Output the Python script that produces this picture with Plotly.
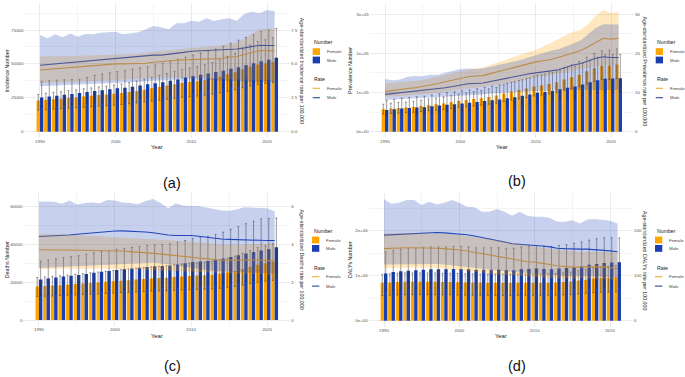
import plotly.graph_objects as go

W, H = 685, 377
years = list(range(1990, 2022))

# ---------------- (a) Incidence ----------------
inc_female = [23000,23500,24000,24300,25000,25300,26000,26500,27000,27500,28000,28500,29200,30000,31000,32000,33000,34000,35000,36000,36700,37300,38200,39300,40500,42300,43800,46000,48000,49500,50500,51500]
inc_male = [25300,26000,26500,27200,27800,28500,29200,30000,30600,31300,32000,32500,33200,34000,35000,35800,36500,37500,38500,40000,41000,42000,43000,44000,45000,46500,47500,49000,50500,52000,53000,54500]
inc_female_lo = [16000,16300,16700,17000,17400,17700,18100,18500,18900,19300,19700,20100,20600,21200,21900,22600,23300,24000,24700,25400,25900,26300,27000,27700,28600,29800,30900,32400,33800,34900,35600,36300]
inc_female_hi = [27500,28300,29000,29500,30300,30800,31700,32300,33000,33700,34500,35200,36200,37300,38700,40200,41600,43000,44500,46000,47000,48000,49500,51000,53000,55500,57800,61000,64000,66500,67800,69300]
inc_male_lo = [18400,18900,19300,19800,20200,20700,21200,21800,22200,22700,23200,23600,24100,24700,25400,26000,26500,27200,27900,29000,29700,30400,31200,31900,32600,33700,34400,35500,36600,37700,38400,39500]
inc_male_hi = [36900,37500,38000,38300,38500,38600,40000,41500,42500,43500,44300,45000,46000,47000,48000,49200,50500,52000,53500,55000,56600,58000,59500,61000,63000,65200,67500,69500,71500,73800,75000,76200]
inc_rate_female = [4.55,4.6,4.65,4.68,4.7,4.75,4.8,4.85,4.9,4.95,5.0,5.0,5.0,5.0,5.05,5.12,5.18,5.22,5.27,5.3,5.32,5.32,5.33,5.35,5.4,5.5,5.55,5.7,5.85,5.98,5.97,5.98]
inc_rate_female_lo = [3.6,3.6,3.62,3.63,3.65,3.67,3.7,3.72,3.75,3.77,3.8,3.82,3.85,3.88,3.9,3.95,3.98,4.0,4.0,4.0,3.98,3.95,3.92,3.9,3.88,3.87,3.85,3.85,3.83,3.82,3.82,3.82]
inc_rate_female_hi = [5.55,5.55,5.56,5.57,5.58,5.6,5.62,5.63,5.65,5.67,5.7,5.7,5.72,5.75,5.82,5.92,5.97,6.0,6.05,6.1,6.15,6.18,6.2,6.25,6.35,6.5,6.6,6.85,7.2,7.55,7.6,7.62]
inc_rate_male = [4.9,4.95,5.0,5.05,5.1,5.15,5.2,5.25,5.3,5.35,5.45,5.5,5.52,5.55,5.6,5.65,5.65,5.7,5.78,5.85,5.93,5.95,5.97,6.0,6.02,6.05,6.1,6.18,6.28,6.37,6.36,6.36]
inc_rate_male_lo = [3.35,3.37,3.4,3.42,3.45,3.47,3.5,3.53,3.56,3.58,3.6,3.63,3.66,3.69,3.73,3.78,3.82,3.85,3.86,3.87,3.86,3.84,3.81,3.79,3.77,3.75,3.72,3.7,3.68,3.67,3.66,3.66]
inc_rate_male_hi = [7.13,6.89,7.18,6.96,7.25,7.0,7.2,7.18,7.3,7.33,7.38,7.18,7.25,7.33,7.55,7.8,7.7,7.55,8.0,8.0,8.19,8.11,8.36,8.16,8.29,8.36,8.19,8.68,8.85,8.73,8.98,8.9]

# ---------------- (b) Prevalence ----------------
prev_female = [57000,59000,60500,61500,63000,65500,68000,70000,72000,75000,78000,80500,83000,85500,88500,92000,97000,102000,106000,110000,115000,118000,121500,126000,133000,138600,145000,154000,162000,168000,168500,171500]
prev_male = [55000,57000,59000,60500,61500,62500,64500,66500,68500,70000,72000,73500,75500,78000,80000,82000,85000,88000,91500,95000,99000,101000,104000,108000,112000,115000,120000,126000,131000,135000,135500,136000]
prev_female_lo = [45000,46500,47500,48500,49500,51500,53500,55000,56500,59000,61500,63500,65500,67500,70000,72500,76500,80500,83500,87000,91000,93000,96000,99500,105000,109500,114500,121500,128000,132500,133000,135500]
prev_female_hi = [70000,72500,74500,75500,77500,80500,83500,86000,88500,92000,96000,99000,102000,105000,109000,113000,119500,125500,130500,135500,141500,145000,149500,155000,163500,170500,178500,189500,199500,206500,207500,211000]
prev_male_lo = [41000,42500,44000,45500,46000,47000,48500,50000,51500,52500,54000,55000,56500,58500,60000,61500,64000,66000,68500,71000,74000,76000,78000,81000,84000,86000,90000,94500,98000,101000,101500,102000]
prev_male_hi = [80000,82500,85500,87500,89000,90500,93500,96500,99500,101500,104500,106500,109500,113000,116000,119000,123000,127500,132500,137500,143500,146500,151000,156500,162500,167000,174000,182500,190000,196000,196500,197000]
prev_rate_female = [10.2,10.5,10.8,11.0,11.2,11.5,11.9,12.3,12.7,13.1,13.6,14.0,14.2,14.3,14.8,15.3,15.8,16.3,16.8,17.3,17.8,18.1,18.4,18.9,19.6,20.1,20.7,21.7,22.8,23.8,23.6,23.8]
prev_rate_female_lo = [8.9,9.0,9.1,9.2,9.3,9.5,9.7,9.9,10.1,10.4,10.7,11.0,11.2,11.4,11.7,11.9,12.3,12.6,13.0,13.4,13.8,14.1,14.4,14.7,15.1,15.5,15.9,16.3,16.7,17.0,17.0,17.0]
prev_rate_female_hi = [12.3,12.5,12.7,12.9,13.0,13.2,13.6,14.0,14.4,14.9,15.4,15.8,16.1,16.4,17.0,17.7,18.3,19.0,19.7,20.3,20.8,21.6,22.6,23.6,24.6,25.5,26.0,27.5,29.6,31.0,30.2,30.6]
prev_rate_male = [9.5,9.7,9.9,10.1,10.3,10.5,10.7,10.9,11.2,11.5,11.9,12.2,12.3,12.4,12.8,13.2,13.5,13.9,14.3,14.7,15.0,15.2,15.5,15.8,16.4,17.0,17.4,18.1,18.7,19.1,18.9,18.9]
prev_rate_male_lo = [8.1,8.2,8.3,8.4,8.5,8.6,8.7,8.8,8.9,9.0,9.2,9.3,9.4,9.5,9.7,9.9,10.0,10.1,10.2,10.3,10.4,10.4,10.5,10.5,10.6,10.6,10.6,10.6,10.6,10.7,10.6,10.6]
prev_rate_male_hi = [13.4,13.1,13.3,14.0,14.2,14.1,14.5,14.5,15.0,15.5,16.0,16.1,16.0,16.1,16.6,17.0,17.4,17.8,18.3,18.9,19.5,20.0,20.6,21.0,21.7,22.5,23.3,25.0,26.5,27.4,27.4,27.3]

# ---------------- (c) Deaths ----------------
death_female = [17800,18000,18200,18400,18700,19000,19300,19600,19900,20200,20500,20800,21100,21400,21700,22000,22200,22400,22700,23000,23300,23500,23700,24000,24500,25200,26000,27000,28200,29300,30000,30800]
death_male = [21500,22000,22500,23000,23400,23800,24400,25000,25500,26000,26500,26900,27300,27700,28100,28400,28600,28800,29400,30000,30700,31000,31200,31800,32500,33400,34300,35200,36000,36800,37500,38500]
death_female_lo = [12500,12600,12700,12900,13100,13300,13500,13700,13900,14100,14300,14500,14700,14900,15100,15300,15400,15500,15700,15900,16100,16200,16300,16500,16800,17300,17800,18500,19300,20000,20500,21000]
death_female_hi = [22500,22800,23100,23400,23800,24200,24600,25000,25400,25800,26200,26600,27000,27400,27800,28200,28500,28800,29200,29600,30000,30300,30600,31000,31700,32700,33800,35200,36800,38300,39300,40400]
death_male_lo = [13200,13500,13800,14100,14300,14500,14900,15200,15500,15800,16100,16300,16500,16700,16900,17000,17100,17200,17500,17800,18200,18300,18400,18700,19100,19600,20100,20600,21000,21400,21800,22300]
death_male_hi = [31200,31800,32400,33000,33500,34000,34800,35600,36200,36800,37400,37900,38400,38900,39400,39800,40000,40300,41200,42100,43200,43800,44300,45300,46500,48000,49500,51000,52300,53500,53700,54000]
death_rate_female = [3.72,3.72,3.71,3.7,3.7,3.69,3.69,3.68,3.68,3.68,3.67,3.65,3.62,3.6,3.56,3.53,3.5,3.45,3.41,3.37,3.33,3.28,3.22,3.17,3.16,3.16,3.17,3.18,3.18,3.18,3.15,3.13]
death_rate_female_lo = [2.7,2.7,2.7,2.7,2.7,2.72,2.72,2.72,2.72,2.72,2.72,2.7,2.68,2.67,2.66,2.65,2.63,2.62,2.6,2.58,2.56,2.54,2.52,2.5,2.48,2.47,2.46,2.45,2.44,2.43,2.42,2.4]
death_rate_female_hi = [4.55,4.55,4.54,4.53,4.52,4.5,4.48,4.46,4.44,4.42,4.4,4.38,4.35,4.33,4.3,4.27,4.25,4.22,4.2,4.18,4.15,4.12,4.08,4.03,3.98,3.97,3.98,4.0,4.02,4.04,4.05,4.05]
death_rate_male = [4.42,4.43,4.45,4.47,4.5,4.54,4.58,4.61,4.64,4.67,4.71,4.72,4.71,4.69,4.66,4.62,4.55,4.5,4.47,4.47,4.47,4.43,4.37,4.32,4.29,4.27,4.25,4.24,4.23,4.22,4.21,4.2]
death_rate_male_lo = [2.75,2.77,2.8,2.83,2.85,2.87,2.9,2.92,2.93,2.95,2.98,3.0,3.0,3.0,3.02,3.05,3.0,2.95,2.9,2.85,2.8,2.72,2.65,2.6,2.57,2.55,2.53,2.52,2.5,2.5,2.48,2.45]
death_rate_male_hi = [6.27,6.28,6.26,6.15,6.32,6.12,6.2,6.22,6.18,6.35,6.33,6.22,6.2,6.13,6.3,6.4,6.2,5.92,6.18,6.05,6.05,6.02,5.95,5.88,5.8,5.79,5.85,5.97,5.95,5.92,5.92,5.75]

# ---------------- (d) DALYs ----------------
daly_female = [840000,850000,860000,865000,865000,865000,865000,865000,860000,860000,855000,850000,850000,848000,845000,845000,845000,845000,845000,845000,845000,845000,845000,850000,860000,870000,890000,910000,935000,950000,955000,965000]
daly_male = [1050000,1080000,1100000,1110000,1120000,1130000,1140000,1140000,1140000,1150000,1150000,1140000,1130000,1130000,1130000,1130000,1120000,1120000,1140000,1150000,1160000,1150000,1140000,1160000,1170000,1190000,1210000,1240000,1260000,1280000,1290000,1300000]
daly_female_lo = [560000,566000,573000,576000,576000,576000,576000,576000,573000,573000,570000,566000,566000,565000,563000,563000,563000,563000,563000,563000,563000,563000,563000,566000,573000,580000,593000,606000,623000,633000,636000,643000]
daly_female_hi = [1030000,1042000,1054000,1060000,1060000,1060000,1060000,1060000,1054000,1054000,1048000,1042000,1042000,1039000,1036000,1036000,1036000,1036000,1036000,1036000,1036000,1036000,1040000,1047000,1062000,1080000,1110000,1140000,1175000,1200000,1210000,1225000]
daly_male_lo = [680000,690000,700000,705000,710000,715000,720000,720000,720000,722000,720000,713000,705000,703000,700000,698000,693000,690000,700000,705000,710000,703000,695000,705000,710000,720000,730000,745000,755000,765000,770000,775000]
daly_male_hi = [1530000,1560000,1590000,1600000,1610000,1625000,1640000,1640000,1640000,1650000,1650000,1635000,1620000,1620000,1620000,1620000,1610000,1610000,1640000,1655000,1670000,1660000,1650000,1670000,1690000,1720000,1750000,1790000,1820000,1840000,1840000,1840000]
daly_rate_female = [160,161,161.5,162,162,162,161.5,161,160,159,157,155,152,148,145,142,139,136,133,131,130,128,125,122,120,119,119,119,120,120,118,115]
daly_rate_female_lo = [116,117,118,118,118,118,118,117,116,115,113,111,109,107,105,103,101,100,99,98,97,96,95,94,93,93,93,93,93,93,92,91]
daly_rate_female_hi = [194,194,195,195,195,195,195,194,193,192,190,188,186,183,181,179,176,173,170,167,164,162,160,158,156,154,153,153,153,153,152,151]
daly_rate_male = [190,191,192,193,193.5,194,195,196,195,194,193,191,188,185,182,178,175,171,170,169,168,166,164,161,160,159,159,159,158,157,155,153]
daly_rate_male_lo = [125,125,125,126,126,126,126,126,125,124,122,120,118,116,114,112,110,108,106,105,104,103,102,101,100,99,99,99,98,98,97,96]
daly_rate_male_hi = [270,260,262,268,268,257,264,258,262,268,262,253,252,242,242,248,242,233,242,233,231,231,228,220,220,223,216,225,226,224,222,216]

# tick labels
x_ticks = [1990, 2000, 2010, 2020]
inc_ticks = ["0", "25000", "50000", "75000"]
inc_rate_ticks = ["0.0", "2.5", "5.0", "7.5"]
prev_ticks = ["0e+00", "1e+05", "2e+05", "3e+05"]
prev_rate_ticks = ["0", "10", "20", "30"]
death_ticks = ["0", "20000", "40000", "60000"]
death_rate_ticks = ["0", "2", "4", "6"]
daly_ticks = ["0e+00", "1e+06", "2e+06"]
daly_rate_ticks = ["0", "100", "200"]

FEMALE_BAR = "#FFA500"
MALE_BAR = "#1B3FAE"
FEMALE_LINE = "#EDA530"
MALE_LINE = "#2447B8"
FEMALE_FILL = "rgba(255,165,0,0.25)"
MALE_FILL = "rgba(33,71,189,0.25)"
ERR = "rgba(45,45,45,0.6)"
FONT = "Liberation Sans, Arial, sans-serif"
SCALE = 10000.0


def PX(p):
    return p / W


def PY(p):
    return 1 - p / H


panels = [
    dict(label="(a)", ytitle="Incidence Number", rtitle="Age-standardized Incidence rate per 100,000",
         f=inc_female, m=inc_male, flo=inc_female_lo, fhi=inc_female_hi, mlo=inc_male_lo, mhi=inc_male_hi,
         rf=inc_rate_female, rflo=inc_rate_female_lo, rfhi=inc_rate_female_hi,
         rm=inc_rate_male, rmlo=inc_rate_male_lo, rmhi=inc_rate_male_hi,
         xpx=(24.5, 290.1), ypx=(3.85, 137.8), yr=[-4490, 94290],
         ytv=[0, 25000, 50000, 75000], ytt=inc_ticks, ymin=[12500, 37500, 62500, 87500],
         y2tt=inc_rate_ticks, ltitle_x=6.7, rtitle_x=302, year_y=147, lab=(172, 183), leg=(312.7, 42.3)),
    dict(label="(b)", ytitle="Prevalence Number", rtitle="Age-standardized Prevalence rate per 100,000",
         f=prev_female, m=prev_male, flo=prev_female_lo, fhi=prev_female_hi, mlo=prev_male_lo, mhi=prev_male_hi,
         rf=prev_rate_female, rflo=prev_rate_female_lo, rfhi=prev_rate_female_hi,
         rm=prev_rate_male, rmlo=prev_rate_male_lo, rmhi=prev_rate_male_hi,
         xpx=(369.6, 634.0), ypx=(4.0, 137.75), yr=[-15500, 325500],
         ytv=[0, 100000, 200000, 300000], ytt=prev_ticks, ymin=[50000, 150000, 250000],
         y2tt=prev_rate_ticks, ltitle_x=350, rtitle_x=645.5, year_y=147, lab=(517, 181), leg=(655.7, 42.3)),
    dict(label="(c)", ytitle="Deaths Number", rtitle="Age-standardized Deaths rate per 100,000",
         f=death_female, m=death_male, flo=death_female_lo, fhi=death_female_hi, mlo=death_male_lo, mhi=death_male_hi,
         rf=death_rate_female, rflo=death_rate_female_lo, rfhi=death_rate_female_hi,
         rm=death_rate_male, rmlo=death_rate_male_lo, rmhi=death_rate_male_hi,
         xpx=(23.4, 290.2), ypx=(193.06, 326.05), yr=[-3200, 67200],
         ytv=[0, 20000, 40000, 60000], ytt=death_ticks, ymin=[10000, 30000, 50000],
         y2tt=death_rate_ticks, ltitle_x=6.7, rtitle_x=302, year_y=336, lab=(172, 366), leg=(312.0, 230.7)),
    dict(label="(d)", ytitle="DALYs Number", rtitle="Age-standardized DALYs rate per 100,000",
         f=daly_female, m=daly_male, flo=daly_female_lo, fhi=daly_female_hi, mlo=daly_male_lo, mhi=daly_male_hi,
         rf=daly_rate_female, rflo=daly_rate_female_lo, rfhi=daly_rate_female_hi,
         rm=daly_rate_male, rmlo=daly_rate_male_lo, rmhi=daly_rate_male_hi,
         xpx=(368.6, 633.0), ypx=(193.28, 326.74), yr=[-134800, 2830800],
         ytv=[0, 1000000, 2000000], ytt=daly_ticks, ymin=[500000, 1500000, 2500000],
         y2tt=daly_rate_ticks, ltitle_x=350, rtitle_x=645, year_y=336, lab=(517, 366), leg=(655.0, 230.7)),
]

fig = go.Figure()
layout = {}
annotations = []
shapes = []

for i, p in enumerate(panels):
    xid = "x" if i == 0 else f"x{i + 1}"
    yid = "y" if i == 0 else f"y{2 * i + 1}"
    y2id = f"y{2 * i + 2}"
    xkey = "xaxis" if i == 0 else f"xaxis{i + 1}"
    ykey = "yaxis" if i == 0 else f"yaxis{2 * i + 1}"
    y2key = f"yaxis{2 * i + 2}"

    # bars with error bars
    for vals, lo, hi, col in ((p["f"], p["flo"], p["fhi"], FEMALE_BAR), (p["m"], p["mlo"], p["mhi"], MALE_BAR)):
        fig.add_trace(go.Bar(
            x=years, y=vals, xaxis=xid, yaxis=yid, marker=dict(color=col, line=dict(width=0)),
            error_y=dict(type="data", symmetric=False,
                         array=[h - v for h, v in zip(hi, vals)],
                         arrayminus=[v - l for v, l in zip(vals, lo)],
                         color=ERR, thickness=0.8, width=1.0),
            showlegend=False, hoverinfo="skip"))

    # rate lines (drawn under the ribbons)
    for vals, col in ((p["rf"], FEMALE_LINE), (p["rm"], MALE_LINE)):
        fig.add_trace(go.Scatter(x=years, y=vals, xaxis=xid, yaxis=y2id, mode="lines",
                                 line=dict(color=col, width=1.1), showlegend=False, hoverinfo="skip"))
    # ribbons
    for lo, hi, fc in ((p["rflo"], p["rfhi"], FEMALE_FILL), (p["rmlo"], p["rmhi"], MALE_FILL)):
        fig.add_trace(go.Scatter(x=years + years[::-1], y=hi + lo[::-1], xaxis=xid, yaxis=y2id,
                                 mode="lines", line=dict(width=0), fill="toself", fillcolor=fc,
                                 showlegend=False, hoverinfo="skip"))

    x0, x1 = p["xpx"]
    yt, yb = p["ypx"]
    tickfont = dict(size=4.4, color="#555555", family=FONT)
    layout[xkey] = dict(domain=[PX(x0), PX(x1)], anchor=yid, range=[1987.955, 2023.045],
                        tickmode="array", tickvals=x_ticks, ticktext=[str(t) for t in x_ticks],
                        tickfont=tickfont, showgrid=True, gridcolor="#EBEBEB", gridwidth=0.6,
                        minor=dict(tickvals=[1995, 2005, 2015], showgrid=True, gridcolor="#F4F4F4", gridwidth=0.4),
                        zeroline=False, showline=False, ticks="", fixedrange=True)
    layout[ykey] = dict(domain=[PY(yb), PY(yt)], anchor=xid, range=p["yr"],
                        tickmode="array", tickvals=p["ytv"], ticktext=p["ytt"], tickfont=tickfont,
                        showgrid=True, gridcolor="#EBEBEB", gridwidth=0.6,
                        minor=dict(tickvals=p["ymin"], showgrid=True, gridcolor="#F4F4F4", gridwidth=0.4),
                        zeroline=False, showline=False, ticks="", fixedrange=True)
    layout[y2key] = dict(overlaying=yid, side="right", anchor=xid,
                         range=[p["yr"][0] / SCALE, p["yr"][1] / SCALE],
                         tickmode="array", tickvals=[v / SCALE for v in p["ytv"]], ticktext=p["y2tt"],
                         tickfont=tickfont, showgrid=False, zeroline=False, showline=False, ticks="",
                         fixedrange=True)

    ymid = (yt + yb) / 2
    tf = dict(size=5.3, color="#1a1a1a", family=FONT)
    annotations.append(dict(text=p["ytitle"], x=PX(p["ltitle_x"]), y=PY(ymid), xref="paper", yref="paper",
                            textangle=-90, showarrow=False, font=tf, xanchor="center", yanchor="middle"))
    annotations.append(dict(text=p["rtitle"], x=PX(p["rtitle_x"]), y=PY(ymid), xref="paper", yref="paper",
                            textangle=90, showarrow=False, font=tf, xanchor="center", yanchor="middle"))
    annotations.append(dict(text="Year", x=PX((x0 + x1) / 2), y=PY(p["year_y"]), xref="paper", yref="paper",
                            showarrow=False, font=dict(size=5.8, color="#1a1a1a", family=FONT),
                            xanchor="center", yanchor="middle"))
    annotations.append(dict(text=p["label"], x=PX(p["lab"][0]), y=PY(p["lab"][1]), xref="paper", yref="paper",
                            showarrow=False, font=dict(size=14.5, color="#111111", family=FONT),
                            xanchor="center", yanchor="middle"))

    # legend (drawn as shapes + text)
    lx, T = p["leg"]
    ltf = dict(size=5.2, color="#1a1a1a", family=FONT)
    itf = dict(size=4.4, color="#444444", family=FONT)
    annotations.append(dict(text="Number", x=PX(lx - 0.5), y=PY(T), xref="paper", yref="paper", showarrow=False,
                            font=ltf, xanchor="left", yanchor="middle"))
    annotations.append(dict(text="Rate", x=PX(lx - 0.5), y=PY(T + 37), xref="paper", yref="paper", showarrow=False,
                            font=ltf, xanchor="left", yanchor="middle"))
    for k, (name, bc, lc) in enumerate((("Female", FEMALE_BAR, "#EEAA3A"), ("Male", MALE_BAR, "#2E4699"))):
        cy = T + 9.3 + 8.4 * k
        shapes.append(dict(type="rect", xref="paper", yref="paper", x0=PX(lx), x1=PX(lx + 7.3),
                           y0=PY(cy + 3.4), y1=PY(cy - 3.4), fillcolor=bc, line=dict(width=0)))
        annotations.append(dict(text=name, x=PX(lx + 12), y=PY(cy), xref="paper", yref="paper", showarrow=False,
                                font=itf, xanchor="left", yanchor="middle"))
        ly = T + 46 + 9.4 * k
        shapes.append(dict(type="line", xref="paper", yref="paper", x0=PX(lx), x1=PX(lx + 7.3),
                           y0=PY(ly), y1=PY(ly), line=dict(color=lc, width=1.1)))
        annotations.append(dict(text=name, x=PX(lx + 12), y=PY(ly), xref="paper", yref="paper", showarrow=False,
                                font=itf, xanchor="left", yanchor="middle"))

fig.update_layout(
    width=W, height=H, margin=dict(l=0, r=0, t=0, b=0),
    paper_bgcolor="white", plot_bgcolor="white",
    barmode="group", bargap=0.1, bargroupgap=0.0,
    showlegend=False, annotations=annotations, shapes=shapes,
    font=dict(family=FONT), **layout)

fig.write_html("out.html", config={"displayModeBar": False},
               post_script="document.body.style.margin='0';document.body.style.overflow='hidden';")
